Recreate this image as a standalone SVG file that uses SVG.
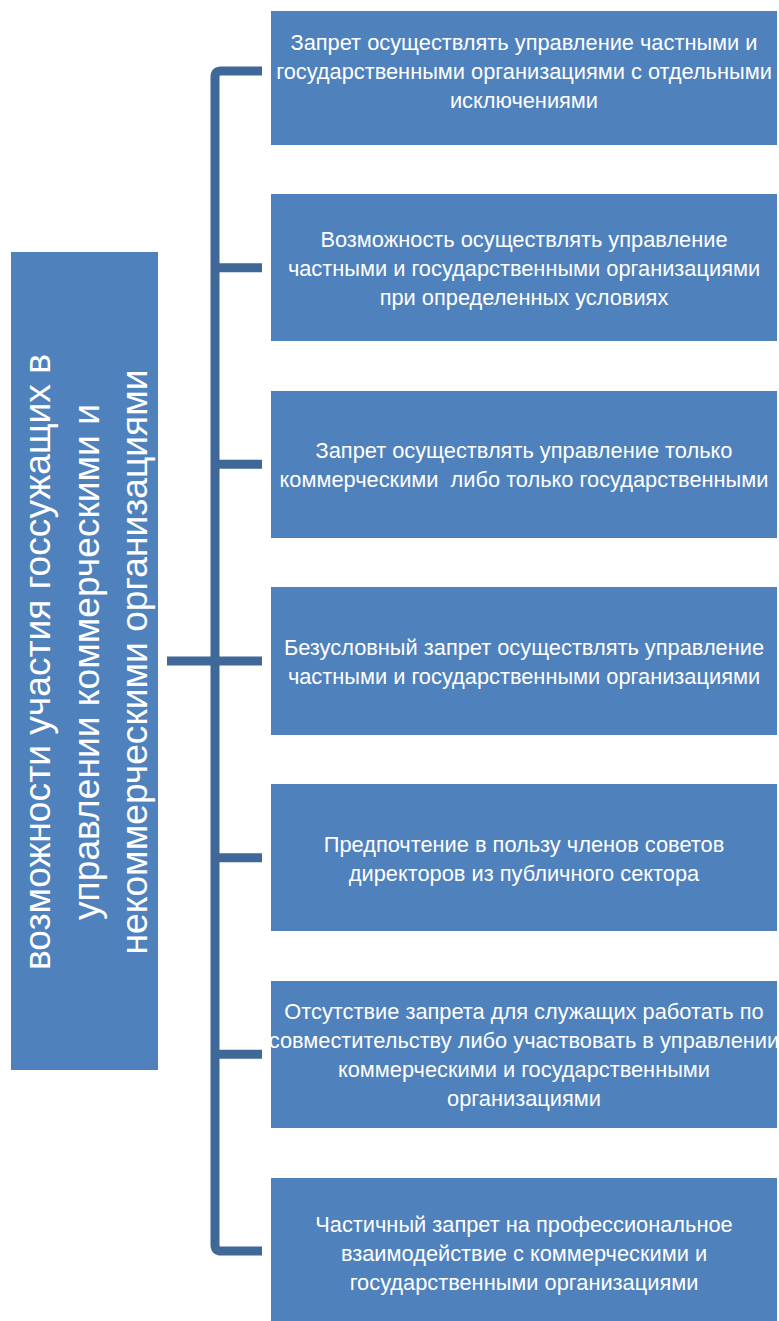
<svg xmlns="http://www.w3.org/2000/svg" width="779" height="1321" viewBox="0 0 779 1321">
<style>
.box{fill:#4F81BD;}
.t{font-family:"Liberation Sans",Arial,sans-serif;font-size:21.8px;fill:#FFFFFF;text-anchor:middle;}
.v{font-family:"Liberation Sans",Arial,sans-serif;font-size:37.2px;fill:#FFFFFF;text-anchor:middle;}
.c{fill:none;stroke:#3F6797;stroke-width:9;stroke-linecap:butt;stroke-linejoin:round;}
</style>
<rect width="779" height="1321" fill="#FFFFFF"/>
<g id="connectors">
<path class="c" d="M262,71 H221 Q215,71 215,77 V1245 Q215,1251 221,1251 H262"/>
<path class="c" d="M215,267.7 H262 M215,464.3 H262 M167,661 H262 M215,857.7 H262 M215,1054.3 H262"/>
</g>
<g id="root">
<rect class="box" x="11" y="252" width="147" height="818"/>
<g transform="translate(0,662) rotate(-90)">
<text class="v" x="0" y="50">возможности участия госсужащих в</text>
<text class="v" x="0" y="98.5">управлении коммерческими и</text>
<text class="v" x="0" y="147">некоммерческими организациями</text>
</g>
</g>
<g id="n1">
<rect class="box" x="271" y="11" width="506" height="134"/>
<text class="t" x="524" y="50">Запрет осуществлять управление частными и</text>
<text class="t" x="524" y="79">государственными организациями с отдельными</text>
<text class="t" x="524" y="108">исключениями</text>
</g>
<g id="n2">
<rect class="box" x="271" y="194" width="506" height="147"/>
<text class="t" x="524" y="247">Возможность осуществлять управление</text>
<text class="t" x="524" y="276">частными и государственными организациями</text>
<text class="t" x="524" y="305">при определенных условиях</text>
</g>
<g id="n3">
<rect class="box" x="271" y="391" width="506" height="147"/>
<text class="t" x="524" y="458">Запрет осуществлять управление только</text>
<text class="t" x="524" y="487" xml:space="preserve">коммерческими  либо только государственными</text>
</g>
<g id="n4">
<rect class="box" x="271" y="587" width="506" height="148"/>
<text class="t" x="524" y="655">Безусловный запрет осуществлять управление</text>
<text class="t" x="524" y="684">частными и государственными организациями</text>
</g>
<g id="n5">
<rect class="box" x="271" y="784" width="506" height="147"/>
<text class="t" x="524" y="852">Предпочтение в пользу членов советов</text>
<text class="t" x="524" y="881">директоров из публичного сектора</text>
</g>
<g id="n6">
<rect class="box" x="271" y="981" width="506" height="147"/>
<text class="t" x="524" y="1019">Отсутствие запрета для служащих работать по</text>
<text class="t" x="524" y="1048">совместительству либо участвовать в управлении</text>
<text class="t" x="524" y="1077">коммерческими и государственными</text>
<text class="t" x="524" y="1106">организациями</text>
</g>
<g id="n7">
<rect class="box" x="271" y="1178" width="506" height="148"/>
<text class="t" x="524" y="1232">Частичный запрет на профессиональное</text>
<text class="t" x="524" y="1261">взаимодействие с коммерческими и</text>
<text class="t" x="524" y="1290">государственными организациями</text>
</g>
</svg>
